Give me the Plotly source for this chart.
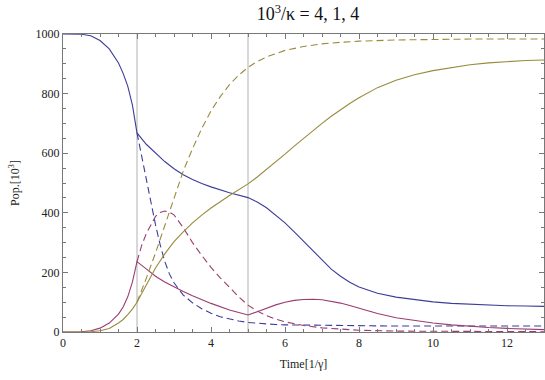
import plotly.graph_objects as go

# time grids
t_full = [0, 0.25, 0.5, 0.75, 1.0, 1.25, 1.5, 1.625, 1.75, 1.875, 2.0, 2.25, 2.5, 2.75, 3.0, 3.25, 3.5, 3.75,
          4.0, 4.5, 5.0, 5.25, 5.5, 5.75, 6.0, 6.25, 6.5, 6.75, 7.0, 7.25, 7.5, 7.75, 8.0,
          8.5, 9.0, 9.5, 10.0, 10.5, 11.0, 11.5, 12.0, 12.5, 13.0]
t_late = [2.0, 2.125, 2.25, 2.5, 2.625, 2.75, 2.875, 3.0, 3.25, 3.5, 3.75, 4.0, 4.25, 4.5, 4.75, 5.0, 5.25,
          5.5, 5.75, 6.0, 6.5, 7.0, 7.5, 8.0, 9.0, 10.0, 11.0, 12.0, 13.0]

# solid curves
blue_solid = [1000, 1000, 999, 994, 978, 950, 903, 868, 825, 762, 668, 630, 600, 572, 548, 528, 512, 498,
              487, 467, 451, 436, 417, 393, 366, 336, 305, 272, 240, 211, 187, 167, 151,
              130, 117, 108, 101, 96, 93, 90, 88, 87, 86]
purple_solid = [0, 0, 1, 4, 13, 30, 60, 84, 118, 167, 236, 212, 187, 168, 151, 136, 122, 109,
                96, 74, 57, 68, 80, 91, 100, 106, 109, 110, 108, 103, 97, 89, 80,
                62, 48, 38, 30, 24, 19, 15, 12, 10, 8]
olive_solid = [0, 0, 0, 1, 4, 12, 30, 42, 58, 77, 100, 160, 215, 262, 303, 336, 366, 392,
               416, 458, 497, 520, 545, 571, 597, 624, 650, 675, 700, 724, 747, 767, 786,
               820, 845, 863, 877, 888, 897, 903, 908, 911, 913]

# dashed curves
blue_dashed = [668, 590, 510, 360, 293, 237, 195, 165, 124, 98, 78, 63, 51, 43, 37, 32, 29,
               27, 25, 24, 23, 22, 21, 21, 20, 20, 20, 20, 20]
purple_dashed = [236, 290, 330, 388, 401, 406, 402, 393, 350, 300, 257, 217, 182, 150, 118, 90, 70,
                 55, 43, 34, 22, 14, 9, 6, 3, 2, 1, 1, 1]
olive_dashed = [100, 138, 180, 265, 312, 360, 405, 450, 540, 615, 683, 742, 790, 830, 862, 888, 908,
                923, 935, 945, 958, 967, 972, 976, 980, 982, 983, 983, 983]

BLUE = "rgb(61,61,153)"
PURPLE = "rgb(153,61,113)"
OLIVE = "rgb(153,139,61)"
FONT = "Liberation Serif, Times New Roman, serif"
FRAME = "rgb(120,120,120)"

fig = go.Figure()

for x, y, c, d in [(t_full, blue_solid, BLUE, "solid"),
                   (t_late, blue_dashed, BLUE, "7px,4px"),
                   (t_full, purple_solid, PURPLE, "solid"),
                   (t_late, purple_dashed, PURPLE, "7px,4px"),
                   (t_full, olive_solid, OLIVE, "solid"),
                   (t_late, olive_dashed, OLIVE, "7px,4px")]:
    fig.add_trace(go.Scatter(x=x, y=y, mode="lines",
                             line=dict(color=c, width=1.1, dash=d),
                             showlegend=False, hoverinfo="skip"))

for xv in [2, 5]:
    fig.add_vline(x=xv, line=dict(color="rgb(200,200,200)", width=1.4), layer="below")

axis_common = dict(
    showline=True, linecolor=FRAME, linewidth=1, mirror="allticks",
    ticks="inside", ticklen=5, tickcolor=FRAME, tickwidth=1,
    showgrid=False, zeroline=False, automargin=False,
    tickfont=dict(family=FONT, size=12, color="#222"),
)

fig.update_xaxes(range=[0, 13], dtick=2, tick0=0,
                 minor=dict(dtick=0.5, ticks="inside", ticklen=3, tickcolor=FRAME),
                 title=dict(text="Time[1/γ]", font=dict(family=FONT, size=12, color="#222"), standoff=10),
                 **axis_common)
fig.update_yaxes(range=[0, 1000], dtick=200, tick0=0,
                 minor=dict(dtick=50, ticks="inside", ticklen=3, tickcolor=FRAME),
                 title=dict(text="Pop.[10<sup>3</sup>]", font=dict(family=FONT, size=12, color="#222"), standoff=13),
                 **axis_common)

fig.update_layout(
    width=545, height=380,
    margin=dict(l=63, r=1, t=34, b=48),
    plot_bgcolor="white", paper_bgcolor="white",
    title=dict(text="10<sup>3</sup>/κ = 4, 1, 4", x=0.565, xanchor="center", y=0.963, yanchor="middle",
               font=dict(family=FONT, size=18, color="#111")),
)

fig.write_html("out.html", config={"displayModeBar": False},
               post_script="document.body.style.margin='0';")
